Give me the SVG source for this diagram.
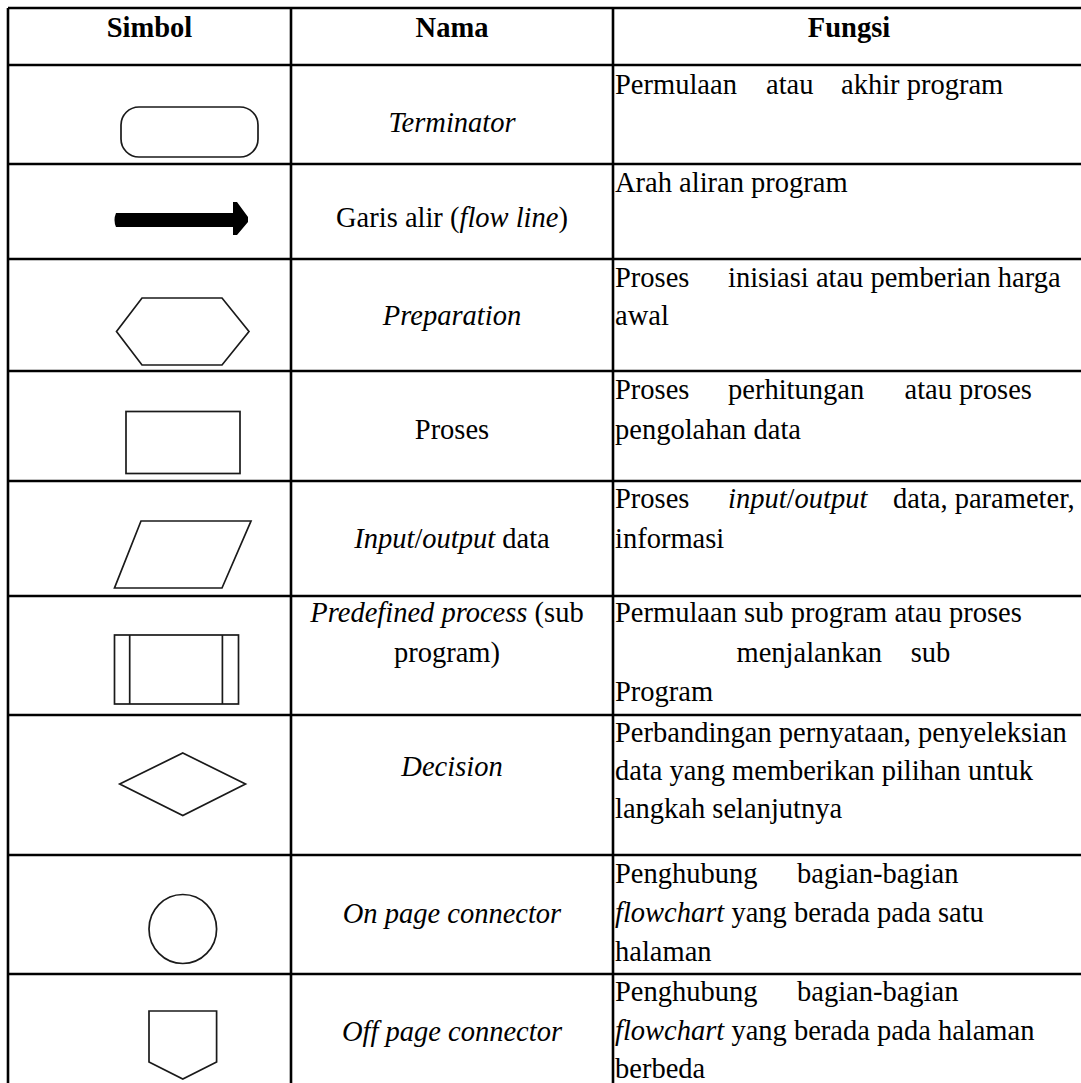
<svg xmlns="http://www.w3.org/2000/svg" width="1081" height="1083" viewBox="0 0 1081 1083">
  <style>
    .grid { stroke: #000; stroke-width: 2.6; fill: none; }
    .sym { stroke: #1a1a1a; stroke-width: 1.7; fill: none; stroke-linejoin: miter; }
    .txt { font-family: "Liberation Serif", "Times New Roman", serif; font-size: 28.5px; fill: #000; }
    .hd { font-weight: bold; text-anchor: middle; }
    .mid { text-anchor: middle; }
    .it { font-style: italic; }
  </style>
  <rect width="1081" height="1083" fill="#fff"/>

  <!-- table rules -->
  <g id="grid" class="grid">
    <line x1="8" y1="8" x2="1081" y2="8"/>
    <line x1="8" y1="8" x2="8" y2="1083"/>
    <line x1="291" y1="8" x2="291" y2="1083"/>
    <line x1="613" y1="8" x2="613" y2="1083"/>
    <line x1="8" y1="65" x2="1081" y2="65"/>
    <line x1="8" y1="164" x2="1081" y2="164"/>
    <line x1="8" y1="259" x2="1081" y2="259"/>
    <line x1="8" y1="371" x2="1081" y2="371"/>
    <line x1="8" y1="481" x2="1081" y2="481"/>
    <line x1="8" y1="596" x2="1081" y2="596"/>
    <line x1="8" y1="715" x2="1081" y2="715"/>
    <line x1="8" y1="855" x2="1081" y2="855"/>
    <line x1="8" y1="974" x2="1081" y2="974"/>
  </g>

  <!-- header row -->
  <g id="header" class="txt hd">
    <text x="149.5" y="37">Simbol</text>
    <text x="452" y="37">Nama</text>
    <text x="849" y="37">Fungsi</text>
  </g>

  <!-- connectors: the table has none between its symbols -->
  <g id="connectors"></g>

  <!-- terminator -->
  <g id="terminator">
    <rect class="sym" x="121" y="107" width="137" height="50" rx="18" ry="18"/>
    <text class="txt mid it" x="452" y="132">Terminator</text>
    <text class="txt" x="615" y="94"><tspan x="615">Permulaan</tspan><tspan x="766">atau</tspan><tspan x="841">akhir program</tspan></text>
  </g>

  <!-- flow line -->
  <g id="flowline">
    <path d="M116,213 H233 V202 H237 L248,217 V222 L237,235 H233 V227 H116 Q113,220 116,213 Z" fill="#000"/>
    <text class="txt mid" x="452" y="227">Garis alir (<tspan font-style="italic">flow line</tspan>)</text>
    <text class="txt" x="615" y="192">Arah aliran program</text>
  </g>

  <!-- preparation -->
  <g id="preparation">
    <polygon class="sym" points="142,298 222,298 249,331.5 222,365 142,365 116.5,331.5"/>
    <text class="txt mid it" x="452" y="325">Preparation</text>
    <text class="txt" x="615" y="287"><tspan x="615">Proses</tspan><tspan x="728">inisiasi atau pemberian harga</tspan></text>
    <text class="txt" x="615" y="325">awal</text>
  </g>

  <!-- process -->
  <g id="proses">
    <rect class="sym" x="126" y="411.5" width="114" height="62" stroke-width="2"/>
    <text class="txt mid" x="452" y="439">Proses</text>
    <text class="txt" x="615" y="399"><tspan x="615">Proses</tspan><tspan x="728">perhitungan</tspan><tspan x="904.5">atau proses</tspan></text>
    <text class="txt" x="615" y="439">pengolahan data</text>
  </g>

  <!-- input/output -->
  <g id="io">
    <polygon class="sym" points="141,521 251,521 222,588 114.5,588"/>
    <text class="txt mid" x="452" y="548"><tspan font-style="italic">Input</tspan>/<tspan font-style="italic">output</tspan> data</text>
    <text class="txt" x="615" y="508"><tspan x="615">Proses</tspan><tspan x="728" font-style="italic">input</tspan>/<tspan font-style="italic">output</tspan><tspan x="893">data, parameter,</tspan></text>
    <text class="txt" x="615" y="548">informasi</text>
  </g>

  <!-- predefined process -->
  <g id="predefined">
    <rect class="sym" x="114.5" y="635" width="124" height="69" stroke-width="2"/>
    <line class="sym" x1="129.7" y1="635" x2="129.7" y2="704" stroke-width="2"/>
    <line class="sym" x1="222.4" y1="635" x2="222.4" y2="704" stroke-width="2"/>
    <text class="txt mid" x="447" y="622"><tspan font-style="italic">Predefined process</tspan> (sub</text>
    <text class="txt mid" x="447" y="662">program)</text>
    <text class="txt" x="615" y="622">Permulaan sub program atau proses</text>
    <text class="txt" x="615" y="662"><tspan x="736.5">menjalankan</tspan><tspan x="910.7">sub</tspan></text>
    <text class="txt" x="615" y="701">Program</text>
  </g>

  <!-- decision -->
  <g id="decision">
    <polygon class="sym" points="182.8,753 245.5,784 182.8,815.6 119.7,784"/>
    <text class="txt mid it" x="452" y="776">Decision</text>
    <text class="txt" x="615" y="742">Perbandingan pernyataan, penyeleksian</text>
    <text class="txt" x="615" y="780">data yang memberikan pilihan untuk</text>
    <text class="txt" x="615" y="818">langkah selanjutnya</text>
  </g>

  <!-- on page connector -->
  <g id="onpage">
    <ellipse class="sym" cx="182.8" cy="929" rx="33.8" ry="34.5"/>
    <text class="txt mid it" x="452" y="923">On page connector</text>
    <text class="txt" x="615" y="883"><tspan x="615">Penghubung</tspan><tspan x="797">bagian-bagian</tspan></text>
    <text class="txt" x="615" y="922"><tspan font-style="italic">flowchart</tspan> yang berada pada satu</text>
    <text class="txt" x="615" y="961">halaman</text>
  </g>

  <!-- off page connector -->
  <g id="offpage">
    <polygon class="sym" points="149,1011 216.6,1011 216.6,1062 182.8,1079 149,1062"/>
    <text class="txt mid it" x="452" y="1041">Off page connector</text>
    <text class="txt" x="615" y="1001"><tspan x="615">Penghubung</tspan><tspan x="797">bagian-bagian</tspan></text>
    <text class="txt" x="615" y="1040"><tspan font-style="italic">flowchart</tspan> yang berada pada halaman</text>
    <text class="txt" x="615" y="1078">berbeda</text>
  </g>
</svg>
